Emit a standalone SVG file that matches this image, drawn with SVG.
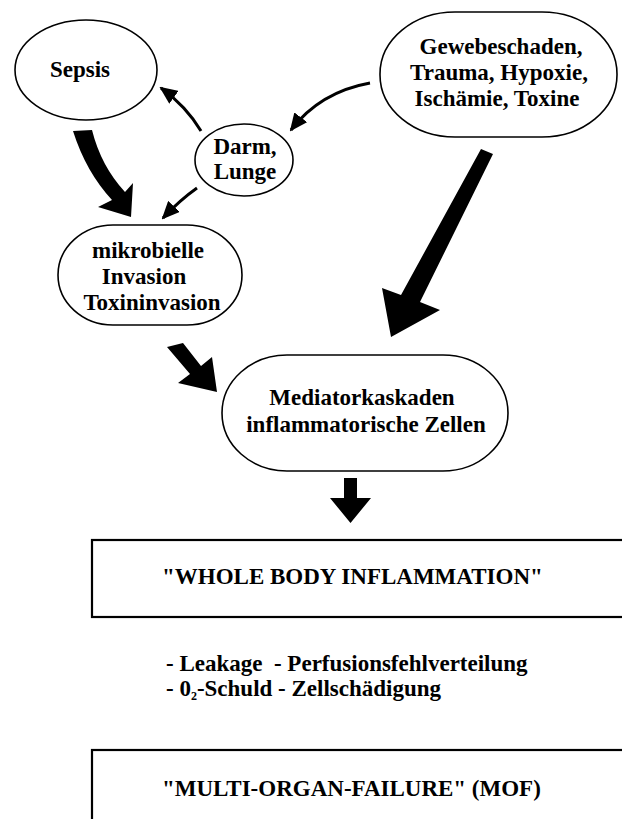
<svg xmlns="http://www.w3.org/2000/svg" width="622" height="819" viewBox="0 0 622 819">
<defs>
<style>
.node{fill:#fff;stroke:#000;stroke-width:1.6}
.box{fill:#fff;stroke:#000;stroke-width:2.2}
.t{font-family:"Liberation Serif","Times New Roman",serif;font-weight:bold;font-size:23px;fill:#000}
.tc{text-anchor:middle}
.thin{fill:none;stroke:#000;stroke-width:3}
.thick{fill:#000;stroke:none}
</style>
<marker id="ah" markerWidth="18" markerHeight="16" refX="16" refY="8" orient="auto" markerUnits="userSpaceOnUse">
<path d="M0,0 L18,8 L0,16 z" fill="#000"/>
</marker>
</defs>
<rect width="622" height="819" fill="#fff"/>

<g id="connectors">
<path class="thin" d="M201,131 Q186,106 161,88" marker-end="url(#ah)"/>
<path class="thin" d="M370,83 Q320,92 291,130" marker-end="url(#ah)"/>
<path class="thin" d="M197,188 Q180,200 163,218" marker-end="url(#ah)"/>
<path class="thick" d="M73,131 L92,130 Q101,166 125,192 L133,183 L131,217 L98,207 L112,200 Q86,172 73,131 Z"/>
<path class="thick" d="M481,149 L493,154 L420,302 L440,310 L391,337 L382,288 L401,295 Z"/>
<path class="thick" d="M167,347 L183,343 L201,366 L212,357 L217,392 L178,383 L190,374 Z"/>
<path class="thick" d="M344,478 L357,478 L357,498 L371,498 L350.5,523 L330,498 L344,498 Z"/>
</g>

<g id="sepsis">
<ellipse class="node" cx="86" cy="70" rx="71" ry="50"/>
<text class="t tc" x="80" y="77">Sepsis</text>
</g>

<g id="darm">
<ellipse class="node" cx="244" cy="160" rx="49" ry="36"/>
<text class="t tc" x="245" y="154">Darm,</text>
<text class="t tc" x="245" y="179">Lunge</text>
</g>

<g id="gewebe">
<rect class="node" x="380" y="12" width="237" height="125" rx="75" ry="62"/>
<text class="t tc" x="501" y="54">Gewebeschaden,</text>
<text class="t tc" x="499" y="80">Trauma, Hypoxie,</text>
<text class="t tc" x="497" y="106">Ischämie, Toxine</text>
</g>

<g id="mikro">
<rect class="node" x="58" y="225" width="184" height="100" rx="55" ry="50"/>
<text class="t tc" x="148" y="258">mikrobielle</text>
<text class="t tc" x="144" y="284">Invasion</text>
<text class="t tc" x="152" y="310">Toxininvasion</text>
</g>

<g id="mediator">
<rect class="node" x="222" y="355" width="286" height="116" rx="65" ry="58"/>
<text class="t tc" x="362" y="405">Mediatorkaskaden</text>
<text class="t tc" x="366" y="432">inflammatorische Zellen</text>
</g>

<g id="whole">
<rect class="box" x="92" y="540" width="560" height="77"/>
<text class="t" x="162" y="584">"WHOLE BODY INFLAMMATION"</text>
</g>

<g id="effects">
<text class="t" x="166" y="671" xml:space="preserve">- Leakage  - Perfusionsfehlverteilung</text>
<text class="t" x="166" y="696">- 0<tspan font-size="12" dy="4">2</tspan><tspan dy="-4">-Schuld - Zellschädigung</tspan></text>
</g>

<g id="mof">
<rect class="box" x="92" y="750" width="560" height="100"/>
<text class="t" x="162" y="796">"MULTI-ORGAN-FAILURE" (MOF)</text>
</g>
</svg>
